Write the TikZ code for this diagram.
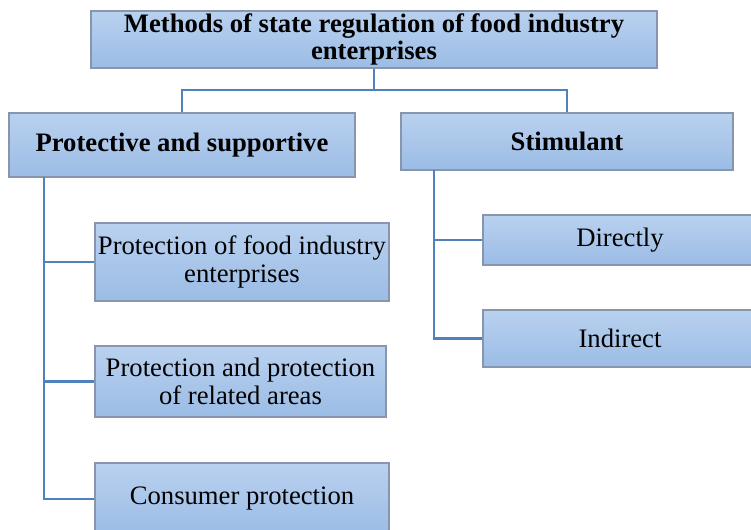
\documentclass[tikz,border=0pt]{standalone}
\usepackage{fontspec}
\setmainfont{Liberation Serif}
\usetikzlibrary{shadows}

\definecolor{boxtop}{HTML}{B9D1EF}
\definecolor{boxbot}{HTML}{9BBCE5}
\definecolor{boxline}{HTML}{8796AD}
\definecolor{linkblue}{HTML}{4F81BD}

\begin{document}
\begin{tikzpicture}[
		x=0.75pt, y=-0.75pt,
		every node/.style={rectangle, draw=boxline, line width=0.8pt, top color=boxtop, bottom color=boxbot,
			align=center, inner sep=0pt, font=\fontsize{20}{21.5}\selectfont,
			drop shadow={shadow xshift=0.8pt, shadow yshift=-0.8pt, opacity=0.35}},
		head/.style={font=\fontsize{20}{20.5}\selectfont\bfseries},
		link/.style={draw=linkblue, line width=1.7pt}
	]
  \useasboundingbox (0,0) rectangle (751,530);
  \clip (0,0) rectangle (751,530);
  \node (meth) [head, minimum width=424.5pt, minimum height=42.75pt] at (374,39.5) {Methods of state regulation of food industry\\ enterprises};
  \node (prot) [head, minimum width=259.5pt, minimum height=48pt] at (182,145) {Protective and supportive};
  \node (stim) [head, minimum width=249pt, minimum height=42.75pt] at (567,141.5) {Stimulant};
  \node (direct) [minimum width=205.5pt, minimum height=37.5pt] at (620,240) {Directly};
  \node (indirect) [minimum width=205.5pt, minimum height=42.75pt] at (620,338.5) {Indirect};
  \node (food) [minimum width=220.5pt, minimum height=58.5pt] at (242,262) {Protection of food industry\\ enterprises};
  \node (areas) [minimum width=218.25pt, minimum height=53.25pt] at (240.5,381.5) {Protection and protection\\ of related areas};
  \node (cons) [minimum width=220.5pt, minimum height=54pt] at (242,499) {Consumer protection};
  \coordinate (hub) at (374,90);
  \coordinate (pl) at (44,177);
  \coordinate (sl) at (434,170);
  \draw [link] (meth.south) -- (hub);
  \draw [link] (prot.north) |- (hub) -| (stim.north);
  \draw [link] (pl) |- (cons.west);
  \draw [link] (pl |- food.west) -- (food.west);
  \draw [link] (pl |- areas.west) -- (areas.west);
  \draw [link] (sl) |- (indirect.west);
  \draw [link] (sl |- direct.west) -- (direct.west);
\end{tikzpicture}
\end{document}
